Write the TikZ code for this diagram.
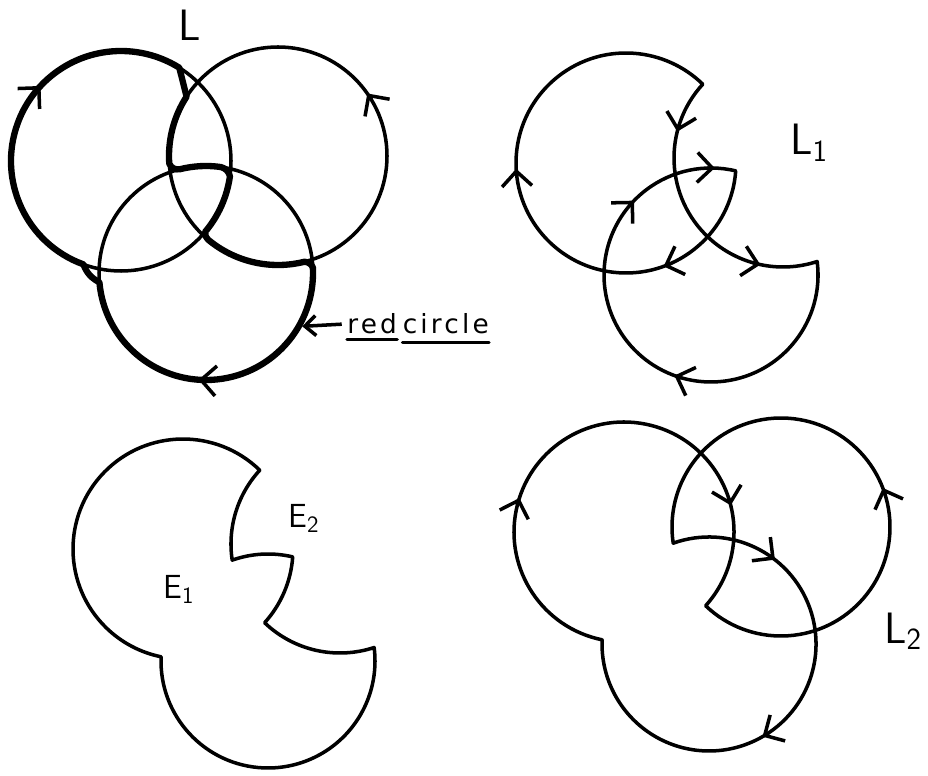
\documentclass[tikz,border=0pt]{standalone}
\usepackage{fontspec}
\newfontfamily\penfont{DejaVu Sans}[LetterSpace=12]
\usetikzlibrary{arrows.meta,positioning}
\tikzset{
  strand/.style={line width=2pt, line cap=round, line join=round},
  heavy/.style={line width=3.6pt, line cap=round, line join=round},
  barb/.style={-{Straight Barb[length=3mm,width=6mm]}, line width=2pt},
  pointer/.style={-{Straight Barb[length=2.2mm,width=4mm]}, line width=2pt},
  uline/.style={line width=1.8pt, line cap=round},
  linklabel/.style={font=\fontsize{25}{28}\selectfont\sffamily, inner sep=0pt},
  regionlabel/.style={font=\fontsize{19}{22}\selectfont\sffamily, inner sep=0pt},
  notelabel/.style={font=\fontsize{15}{17}\selectfont\penfont, inner sep=0pt}
}
\begin{document}
\begin{tikzpicture}[x=0.02cm, y=-0.02cm]
\useasboundingbox (0,0) rectangle (928,776);

% L: three round circles, the red one traced heavy
\coordinate (A) at (121,161);
\coordinate (B) at (278,156);
\coordinate (C) at (206,273);
\draw[strand] (A) circle[radius=110];
\draw[strand] (B) circle[radius=109];
\draw[strand] (C) circle[radius=107];
\draw[heavy] ([shift={(110:110)}]A) arc[start angle=110, end angle=302, radius=110]
  -- ([shift={(213:109)}]B) arc[start angle=213, end angle=176, radius=109]
  to[bend right=40] ([shift={(256:107)}]C) arc[start angle=256, end angle=278, radius=107]
  to[bend left=30] ([shift={(8:110)}]A) arc[start angle=8, end angle=40, radius=110]
  to[bend right=30] ([shift={(130:109)}]B) arc[start angle=130, end angle=76, radius=109]
  to[bend left=30] ([shift={(-3:107)}]C) arc[start angle=-3, end angle=175, radius=107]
  to[bend left=20] cycle;
\foreach \c/\r/\t/\d in {A/110/223/1, B/109/-35/-1, C/107/94/1}
  \draw[barb] ([shift={({\t-4*\d}:\r)}]\c) arc[start angle={\t-4*\d}, end angle=\t, radius=\r];
\node[linklabel] (labL) at (190,25) {L};
\node[notelabel, anchor=base west] (red) at (347,334) {red};
\node[notelabel, right=3pt of red] (circ) {circle};
\coordinate (tip) at ([shift={(29:110)}]C);
\draw[pointer] ([xshift=-3pt]red.west) -- (tip);
\draw[uline] ([yshift=-3pt]red.base west) -- ([yshift=-3pt]red.base east);
\draw[uline] ([yshift=-5pt]circ.base west) -- ([yshift=-5pt]circ.base east);

% L_1
\begin{scope}[shift={(505,2)}]
  \coordinate (A) at (121,161);
  \coordinate (B) at (278,156);
  \coordinate (C) at (206,273);
  \draw[strand] ([shift={(4.11:110)}]A) arc[start angle=4.11, end angle=314.26, radius=110]
    arc[start angle=222.60, end angle=71.74, radius=109]
    arc[start angle=-7.24, end angle=283.36, radius=107] -- cycle;
  \foreach \c/\r/\t/\d in {A/110/177/1, A/110/70/1, B/109/194/-1, B/109/102/-1,
                           C/107/224/1, C/107/272/1, C/107/110/1}
    \draw[barb] ([shift={({\t-4*\d}:\r)}]\c) arc[start angle={\t-4*\d}, end angle=\t, radius=\r];
\end{scope}
\node[linklabel, anchor=base west] (labLone) at (790,155) {L\textsubscript{1}};

% the surface E = E_1 u E_2
\begin{scope}[shift={(62,388)}]
  \coordinate (A) at (121,161);
  \coordinate (B) at (278,156);
  \coordinate (C) at (206,273);
  \draw[strand] ([shift={(314.26:110)}]A) arc[start angle=314.26, end angle=101.49, radius=110]
    arc[start angle=182.25, end angle=-7.24, radius=107]
    arc[start angle=71.74, end angle=133.75, radius=109]
    arc[start angle=42.09, end angle=4.11, radius=110]
    arc[start angle=-76.64, end angle=-109.55, radius=107]
    arc[start angle=171.47, end angle=222.60, radius=109] -- cycle;
\end{scope}
\node[regionlabel, anchor=base west] (labEone) at (163,598) {E\textsubscript{1}};
\node[regionlabel, anchor=base west] (labEtwo) at (288,527) {E\textsubscript{2}};

% L_2
\begin{scope}[shift={(503,371)}]
  \coordinate (A) at (121,161);
  \coordinate (B) at (278,156);
  \coordinate (C) at (206,273);
  \draw[strand] ([shift={(101.49:110)}]A) arc[start angle=101.49, end angle=402.09, radius=110]
    arc[start angle=133.75, end angle=-188.53, radius=109]
    arc[start angle=-109.55, end angle=182.25, radius=107] -- cycle;
  \foreach \c/\r/\t/\d in {A/110/198/1, A/110/346/1, B/109/-21/-1, C/107/-52/1, C/107/60/1}
    \draw[barb] ([shift={({\t-4*\d}:\r)}]\c) arc[start angle={\t-4*\d}, end angle=\t, radius=\r];
\end{scope}
\node[linklabel, anchor=base west] (labLtwo) at (884,643) {L\textsubscript{2}};
\end{tikzpicture}
\end{document}
